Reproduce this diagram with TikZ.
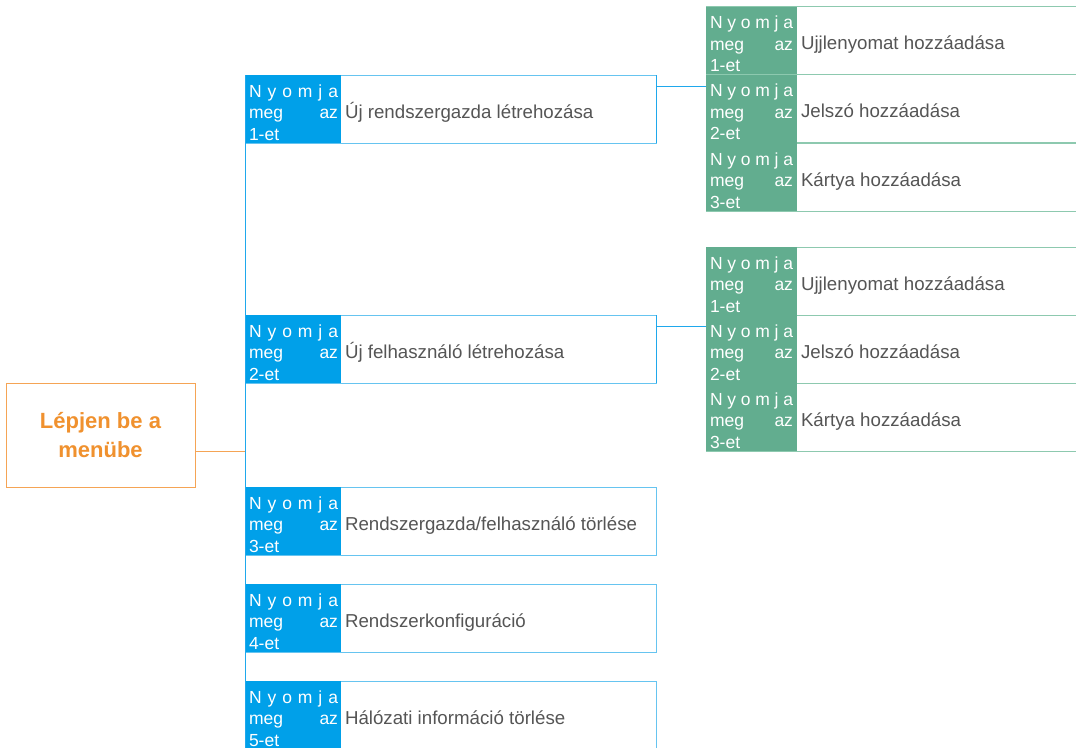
\documentclass[tikz,border=0pt]{standalone}
\usepackage{fontspec}
\setmainfont{Liberation Sans}
\definecolor{bfill}{HTML}{00A0E9}
\definecolor{bedge}{HTML}{66C4F0}
\definecolor{bconn}{HTML}{1FA8EC}
\definecolor{gfill}{HTML}{62AD8F}
\definecolor{gedge}{HTML}{8DC9AF}
\definecolor{otext}{HTML}{F0912E}
\definecolor{oedge}{HTML}{F5A455}
\definecolor{ltext}{HTML}{555555}
\newcommand\pcell[2]{\parbox[t]{#1pt}{\fontsize{17.5}{21.5}\selectfont\makebox[#1pt][s]{N y o m j a}\\\makebox[#1pt][s]{meg az}\\#2}}
\newcommand\mkrow[7]{%
  \node[#4box, anchor=north west] (#1) at (#2,#3) {};
  \node[#4cell, anchor=north west] (#1c) at (#1.north west) {};
  \node[celltxt, anchor=base west] (#1n) at ([xshift=4pt,yshift=-22pt]#1.north west) {\pcell{#7}{#5-et}};
  \node[labtxt, anchor=base west] (#1t) at ([xshift=4pt,yshift=-43pt]#1c.north east) {#6};
}
\tikzset{
  bbox/.style={draw=bedge, line width=1pt, fill=white, inner sep=0pt, outer sep=0pt, minimum width=411pt, minimum height=68pt},
  bcell/.style={fill=bfill, inner sep=0pt, outer sep=0pt, minimum width=96pt, minimum height=68pt},
  gbox/.style={draw=gedge, line width=1pt, fill=white, inner sep=0pt, outer sep=0pt, minimum width=374pt, minimum height=68pt},
  gcell/.style={fill=gfill, inner sep=0pt, outer sep=0pt, minimum width=91pt, minimum height=68pt},
  celltxt/.style={inner sep=0pt, outer sep=0pt, text=white},
  labtxt/.style={inner sep=0pt, outer sep=0pt, text=ltext, font=\fontsize{18.7}{21.5}\selectfont},
  bline/.style={draw=bconn, line width=1pt},
  oline/.style={draw=oedge, line width=1pt},
  menubox/.style={draw=oedge, line width=1pt, fill=white, inner sep=0pt, outer sep=0pt, minimum width=189pt, minimum height=104pt, align=center, text=otext, font=\fontsize{22}{29}\selectfont\bfseries}
}
\begin{document}
\begin{tikzpicture}[x=1pt,y=-1pt]
\clip (0,0) rectangle (1076,747);
\fill[white] (0,0) rectangle (1076,747);
\node[menubox] (menu) at (100.5,435) {\raisebox{-2pt}{Lépjen be a}\\\raisebox{-2pt}{menübe}};
\mkrow{b1}{245}{75}{b}{1}{Új rendszergazda létrehozása}{89}
\mkrow{b2}{245}{315}{b}{2}{Új felhasználó létrehozása}{89}
\mkrow{b3}{245}{487}{b}{3}{Rendszergazda/felhasználó törlése}{89}
\mkrow{b4}{245}{584}{b}{4}{Rendszerkonfiguráció}{89}
\mkrow{b5}{245}{681}{b}{5}{Hálózati információ törlése}{89}
\mkrow{g11}{706}{6.5}{g}{1}{Ujjlenyomat hozzáadása}{83}
\mkrow{g12}{706}{74.75}{g}{2}{Jelszó hozzáadása}{83}
\mkrow{g13}{706}{143}{g}{3}{Kártya hozzáadása}{83}
\mkrow{g21}{706}{247}{g}{1}{Ujjlenyomat hozzáadása}{83}
\mkrow{g22}{706}{315}{g}{2}{Jelszó hozzáadása}{83}
\mkrow{g23}{706}{383}{g}{3}{Kártya hozzáadása}{83}
\draw[bline] (b1.north west) -- (b5.south west);
\draw[oline] ([yshift=-16pt]menu.east) -- ([yshift=-16pt]menu.east -| b1.west);
\draw[bline] (b1.north east) -- (b1.south east);
\draw[bline] ([yshift=-11pt]b1.north east) -- ([yshift=-11pt]b1.north east -| g12.west);
\draw[bline] (b2.north east) -- (b2.south east);
\draw[bline] ([yshift=-11pt]b2.north east) -- ([yshift=-11pt]b2.north east -| g22.west);
\end{tikzpicture}
\end{document}
